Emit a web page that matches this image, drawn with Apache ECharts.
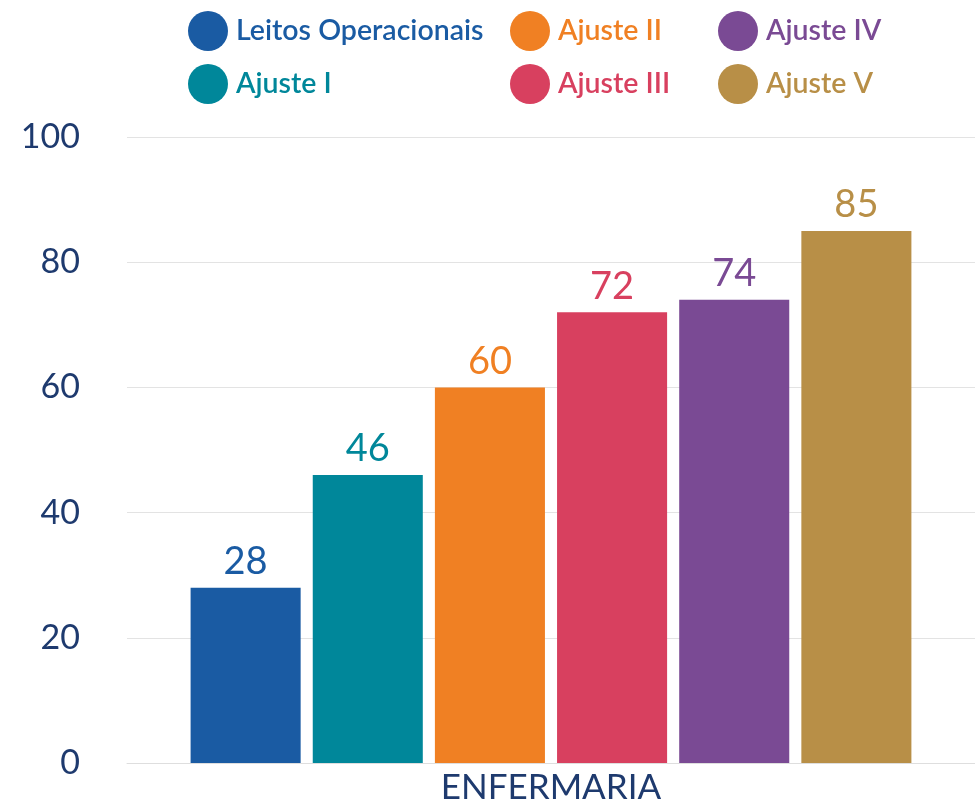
<!DOCTYPE html>
<html>
<head>
<meta charset="utf-8">
<script src="https://cdn.jsdelivr.net/npm/echarts@6/dist/echarts.min.js"></script>
<style>
  html, body { margin: 0; padding: 0; background: #fff; }
  #main { width: 975px; height: 805px; }
</style>
</head>
<body>
<div id="main"></div>
<script>
const categories = ['ENFERMARIA'];
const seriesNames = ['Leitos Operacionais', 'Ajuste I', 'Ajuste II', 'Ajuste III', 'Ajuste IV', 'Ajuste V'];
const seriesValues = [28, 46, 60, 72, 74, 85];
const seriesColors = ['#1a5ba3', '#00879a', '#f08023', '#d8405f', '#7a4a94', '#b88f47'];
const yTicks = [0, 20, 40, 60, 80, 100];

const font = 'Lato, "Open Sans", sans-serif';
const navy = '#1e3a6e';

function legendFor(names, left) {
    return {
        orient: 'vertical',
        left: left,
        top: 6,
        icon: 'circle',
        itemWidth: 40,
        itemHeight: 40,
        itemGap: 13,
        selectedMode: false,
        data: names.map(n => ({
            name: n,
            textStyle: {
                color: seriesColors[seriesNames.indexOf(n)],
                fontFamily: font,
                fontSize: 28.5,
                fontWeight: 600,
                padding: [0, 0, 0, 3]
            }
        }))
    };
}

let chartDom = document.getElementById('main');
let myChart = echarts.init(chartDom);

let series = seriesNames.map((name, i) => ({
    name: name,
    type: 'bar',
    data: [seriesValues[i]],
    barGap: '11%',
    barCategoryGap: '15%',
    itemStyle: { color: seriesColors[i] },
    label: {
        show: true,
        position: 'top',
        distance: 7,
        color: seriesColors[i],
        fontFamily: font,
        fontSize: 38
    }
}));

let option = {
    animation: false,
    legend: [
        legendFor(['Leitos Operacionais', 'Ajuste I'], 183),
        legendFor(['Ajuste II', 'Ajuste III'], 505),
        legendFor(['Ajuste IV', 'Ajuste V'], 713)
    ],
    grid: { left: 127, right: 0, top: 137, bottom: 41, containLabel: false },
    xAxis: {
        type: 'category',
        data: categories,
        axisLine: { lineStyle: { color: '#dedede' } },
        axisTick: { show: false },
        axisLabel: { color: navy, fontFamily: font, fontSize: 35, margin: 7 }
    },
    yAxis: {
        type: 'value',
        min: yTicks[0],
        max: yTicks[yTicks.length - 1],
        interval: 20,
        axisLine: { show: false },
        axisTick: { show: false },
        splitLine: { lineStyle: { color: '#e3e3e3', width: 1 } },
        axisLabel: { color: navy, fontFamily: font, fontSize: 34, margin: 47 }
    },
    series: series
};

myChart.setOption(option);
</script>
</body>
</html>
